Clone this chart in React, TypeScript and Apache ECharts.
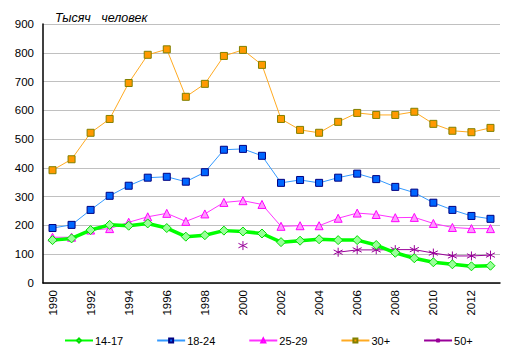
import React, { useEffect, useRef } from "react";
import * as echarts from "echarts";

const years = ["1990","1991","1992","1993","1994","1995","1996","1997","1998","1999","2000","2001","2002","2003","2004","2005","2006","2007","2008","2009","2010","2011","2012","2013"];
const s1417 = [149,155,184,202,199,207,191,161,166,182,179,172,142,147,152,149,149,132,105,86,72,65,58,60];
const s1824 = [191,202,254,303,338,366,369,352,385,463,466,442,348,358,348,366,380,361,334,314,279,254,233,223];
const s2529 = [159,159,184,189,211,230,242,214,240,280,286,273,197,199,199,225,243,238,227,228,207,193,189,189];
const s30 = [392,430,522,570,695,793,812,647,692,789,810,758,570,532,522,560,591,584,584,595,553,529,524,539];
const s50: (number | null)[] = [null,null,null,null,null,null,null,null,null,null,130,null,null,null,null,107,115,115,116,116,104,94,94,97];
const yTicks = { min: 0, max: 900, interval: 100 };
const titleText = "Тысяч\u00a0\u00a0\u00a0человек";

const FONT = 'Arial, "Liberation Sans", sans-serif';
const ASTER = "path://M5 0 L5 10 M0.7 2.5 L9.3 7.5 M9.3 2.5 L0.7 7.5";

export default function App() {
  const ref = useRef<HTMLDivElement>(null);
  useEffect(() => {
    const chart = echarts.init(ref.current!, null, { renderer: "svg" });
    chart.setOption({
      animation: false,
      textStyle: { fontFamily: FONT },
      title: {
        text: titleText,
        left: 50,
        top: 6,
        textStyle: { fontStyle: "italic", fontWeight: "normal", fontSize: 12.5, color: "#000", fontFamily: FONT },
      },
      grid: { left: 43, right: 14, top: 24, bottom: 76 },
      xAxis: {
        type: "category",
        data: years,
        boundaryGap: true,
        axisLine: { lineStyle: { color: "#000", width: 1.5 } },
        axisTick: { show: false },
        axisLabel: { interval: 1, rotate: 90, color: "#000", fontSize: 11.5, margin: 7, fontFamily: FONT },
        splitLine: { show: false },
      },
      yAxis: {
        type: "value",
        min: yTicks.min,
        max: yTicks.max,
        interval: yTicks.interval,
        axisLine: { show: true, lineStyle: { color: "#000", width: 1.5 } },
        axisTick: { show: false },
        axisLabel: { color: "#000", fontSize: 11.5, margin: 9, fontFamily: FONT },
        splitLine: { lineStyle: { color: "#c0c0c0", width: 1 } },
      },
      legend: {
        bottom: 13,
        left: 64,
        padding: 0,
        itemWidth: 28,
        itemHeight: 5,
        itemGap: 33,
        textStyle: { fontSize: 11, color: "#000", fontFamily: FONT, padding: [0, 0, 0, -3] },
      },
      series: [
        {
          name: "14-17",
          type: "line",
          data: s1417,
          symbol: "diamond",
          symbolSize: 9,
          lineStyle: { color: "#00ff00", width: 3.5 },
          itemStyle: { color: "#99ff99", borderColor: "#00dd00", borderWidth: 1 },
          z: 5,
        },
        {
          name: "18-24",
          type: "line",
          data: s1824,
          symbol: "rect",
          symbolSize: 7,
          lineStyle: { color: "#3399ff", width: 1 },
          itemStyle: { color: "#0066ff", borderColor: "#000080", borderWidth: 1 },
        },
        {
          name: "25-29",
          type: "line",
          data: s2529,
          symbol: "triangle",
          symbolSize: 8,
          lineStyle: { color: "#ff33ff", width: 1 },
          itemStyle: { color: "#ff99ff", borderColor: "#ff00ff", borderWidth: 1 },
        },
        {
          name: "30+",
          type: "line",
          data: s30,
          symbol: "rect",
          symbolSize: 7,
          lineStyle: { color: "#ffaa22", width: 1 },
          itemStyle: { color: "#ff9900", borderColor: "#808000", borderWidth: 1 },
        },
        {
          name: "50+",
          type: "line",
          data: s50,
          connectNulls: false,
          symbol: ASTER,
          symbolSize: 9,
          showAllSymbol: true,
          lineStyle: { color: "#990099", width: 1 },
          itemStyle: { color: "#990099", borderColor: "#990099", borderWidth: 1 },
        },
      ],
    });
    return () => chart.dispose();
  }, []);
  return <div ref={ref} style={{ width: 514, height: 359, position: "absolute", left: 0, top: 0 }} />;
}
